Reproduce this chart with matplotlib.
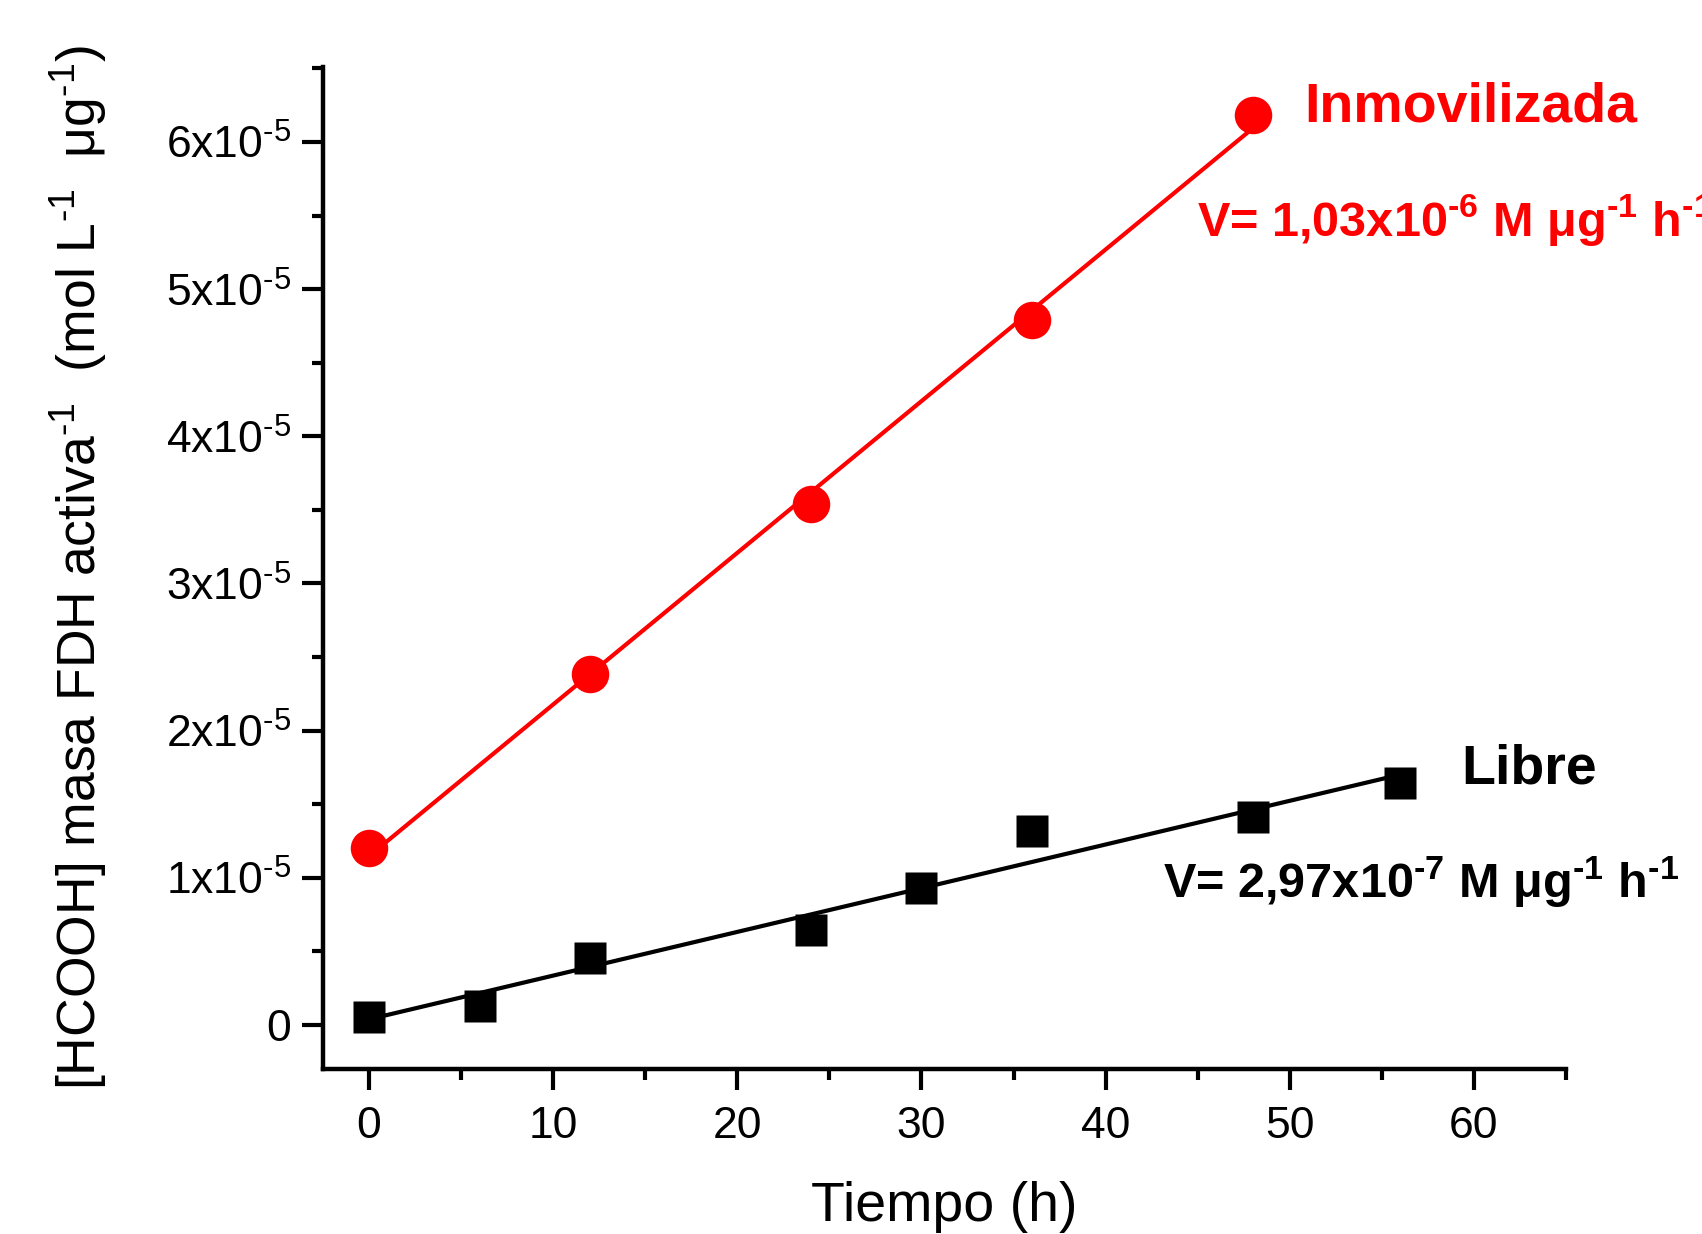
import numpy as np
import matplotlib
matplotlib.use("Agg")
import matplotlib.pyplot as plt
from matplotlib import ticker

plt.rcParams['font.family'] = ['Liberation Sans', 'DejaVu Sans']
plt.rcParams['mathtext.fontset'] = 'custom'
plt.rcParams['mathtext.rm'] = 'Liberation Sans'
plt.rcParams['mathtext.it'] = 'Liberation Sans:italic'
plt.rcParams['mathtext.bf'] = 'Liberation Sans:bold'
plt.rcParams['mathtext.default'] = 'regular'

# datos
t_inmov = [0, 12, 24, 36, 48]
c_inmov = [1.203e-5, 2.383e-5, 3.543e-5, 4.79e-5, 6.184e-5]

t_libre = [0, 6, 12, 24, 30, 36, 48, 56]
c_libre = [0.056e-5, 0.131e-5, 0.455e-5, 0.645e-5, 0.933e-5, 1.318e-5, 1.415e-5, 1.646e-5]

x_ticks = [0, 10, 20, 30, 40, 50, 60]
y_ticks = [0, 1e-5, 2e-5, 3e-5, 4e-5, 5e-5, 6e-5]

HY = '\u2010'  # guion corto para los exponentes

W, H = 1702, 1234
fig = plt.figure(figsize=(W / 100, H / 100), dpi=100)
ax = fig.add_axes([323 / W, 1 - 1069 / H, (1566 - 323) / W, (1069 - 67) / H])

# ajuste lineal de cada serie
p_inmov = np.polyfit(t_inmov, c_inmov, 1)
p_libre = np.polyfit(t_libre, c_libre, 1)
xi = np.array([t_inmov[0], t_inmov[-1]])
xl = np.array([t_libre[0], t_libre[-1]])
ax.plot(xi, np.polyval(p_inmov, xi), color='#ff0000', lw=3, zorder=2)
ax.plot(xl, np.polyval(p_libre, xl), color='black', lw=3, zorder=2)

ax.plot(t_inmov, c_inmov, 'o', color='#ff0000', ms=27, mec='none', zorder=3)
ax.plot(t_libre, c_libre, 's', color='black', ms=23, mec='none', zorder=3)

ax.set_xlim(-2.5, 65)
ax.set_ylim(-0.3e-5, 6.51e-5)
ax.set_xticks(x_ticks)
ax.set_yticks(y_ticks)
ax.xaxis.set_minor_locator(ticker.AutoMinorLocator(2))
ax.yaxis.set_minor_locator(ticker.AutoMinorLocator(2))


def fmt_y(v, pos):
    n = int(round(v / 1e-5))
    if n == 0:
        return '0'
    return '%dx10$^{%s5}$' % (n, HY)


ax.yaxis.set_major_formatter(ticker.FuncFormatter(fmt_y))

for s in ['top', 'right']:
    ax.spines[s].set_visible(False)
for s in ['left', 'bottom']:
    ax.spines[s].set_linewidth(3.2)

ax.tick_params(which='major', direction='out', length=15, width=3, labelsize=32)
ax.tick_params(which='minor', direction='out', length=8, width=3)
ax.tick_params(axis='x', pad=12)
ax.tick_params(axis='y', pad=8)

ax.set_xlabel('Tiempo (h)', fontsize=40)
ax.xaxis.set_label_coords(0.5, -0.112)
ax.set_ylabel('[HCOOH] masa FDH activa$^{%s1}$  (mol L$^{%s1}$  μg$^{%s1}$)' % (HY, HY, HY),
              fontsize=38.5)
ax.yaxis.set_label_coords(-0.172, 0.5)

# anotaciones
fig.text(1304 / W, 1 - 121 / H, 'Inmovilizada', color='#ff0000', fontsize=40,
         fontweight='bold', va='baseline', ha='left')
fig.text(1197 / W, 1 - 236 / H,
         'V= 1,03x10$^{\\mathbf{%s6}}$ M μg$^{\\mathbf{%s1}}$ h$^{\\mathbf{%s1}}$' % (HY, HY, HY),
         color='#ff0000', fontsize=35, fontweight='bold', va='baseline', ha='left')
fig.text(1461 / W, 1 - 783 / H, 'Libre', color='black', fontsize=40,
         fontweight='bold', va='baseline', ha='left')
fig.text(1163 / W, 1 - 898 / H,
         'V= 2,97x10$^{\\mathbf{%s7}}$ M μg$^{\\mathbf{%s1}}$ h$^{\\mathbf{%s1}}$' % (HY, HY, HY),
         color='black', fontsize=35, fontweight='bold', va='baseline', ha='left')

fig.savefig('out.png', dpi=100)
